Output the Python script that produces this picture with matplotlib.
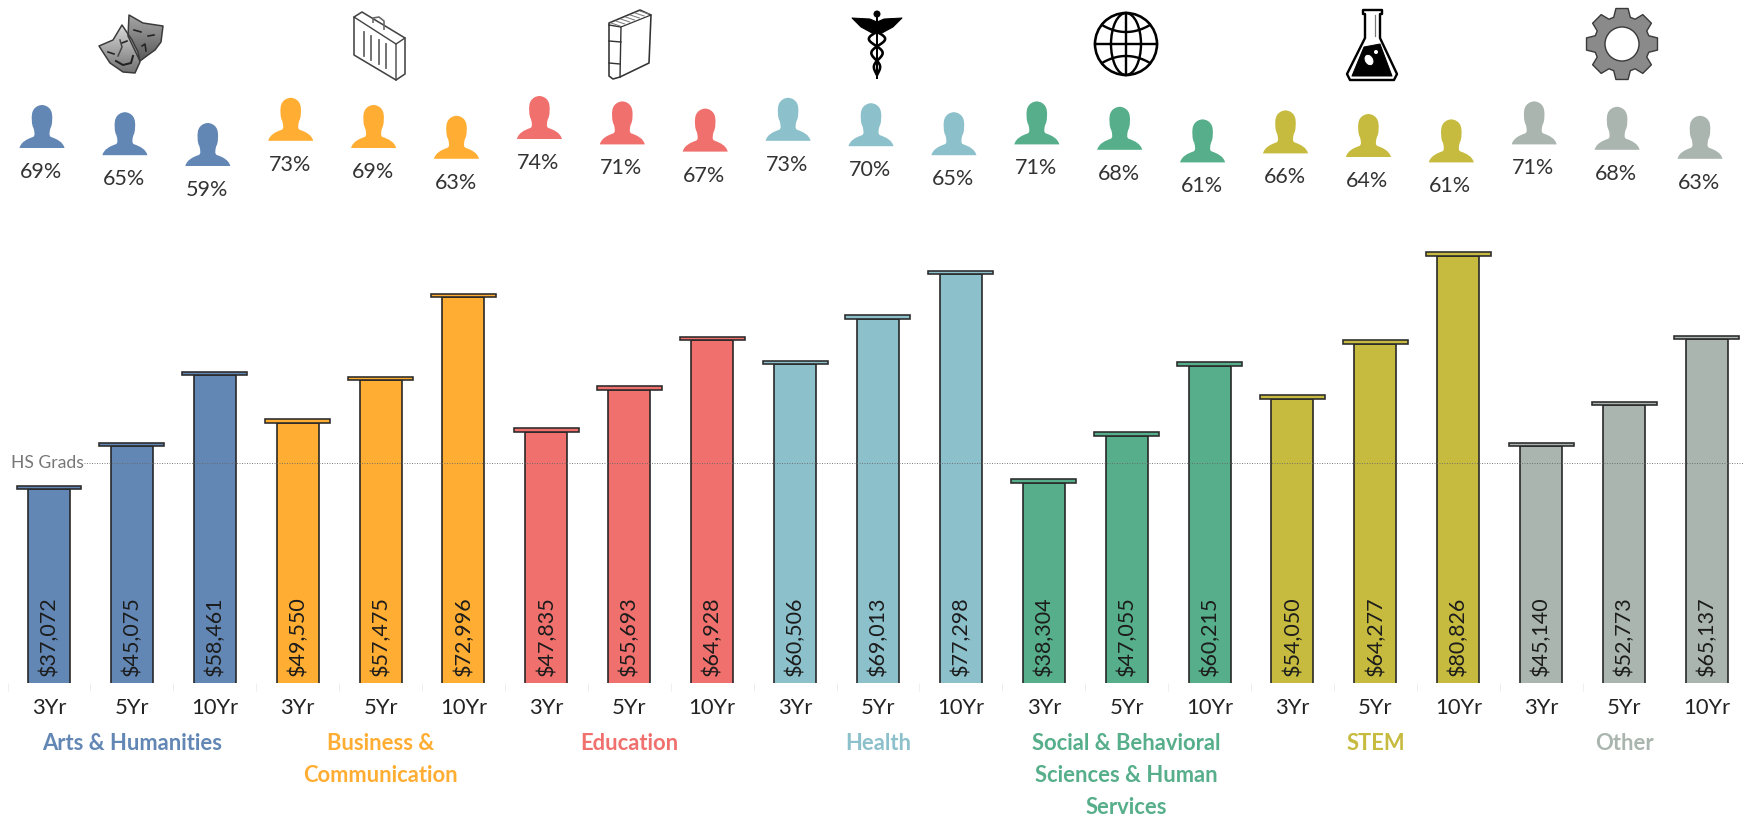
import matplotlib
matplotlib.use("Agg")
import matplotlib.pyplot as plt
from matplotlib.path import Path
from matplotlib.patches import Circle, Ellipse, Polygon
import numpy as np

plt.rcParams['font.family'] = ['Lato', 'DejaVu Sans']

# data
categories = [["Arts & Humanities"],
              ["Business &", "Communication"],
              ["Education"],
              ["Health"],
              ["Social & Behavioral", "Sciences & Human", "Services"],
              ["STEM"],
              ["Other"]]
years = ["3Yr", "5Yr", "10Yr"]
earnings = [37072, 45075, 58461,
            49550, 57475, 72996,
            47835, 55693, 64928,
            60506, 69013, 77298,
            38304, 47055, 60215,
            54050, 64277, 80826,
            45140, 52773, 65137]
employed = [69, 65, 59,
            73, 69, 63,
            74, 71, 67,
            73, 70, 65,
            71, 68, 61,
            66, 64, 61,
            71, 68, 63]
hs_grads = 41950
colors = ["#6287B5", "#FFAD33", "#F0706D", "#8CC0CB", "#56AE8A", "#C6BB3F", "#A9B5AE"]

# dpi 72 so that one point is one pixel
W, H = 1744, 818
fig = plt.figure(figsize=(W / 72, H / 72), dpi=72)

step = 82.9
base_y = 683
px_per_dollar = 0.00534
cut = 4.2  # the bars are cut a little above their zero
n = len(earnings)
x = np.arange(n)
bar_colors = [colors[i // 3] for i in range(n)]

# bars
ax = fig.add_axes([0, (H - base_y) / H, 1, (base_y - 215) / H])
ax.set_xlim(-49 / step, (W - 49) / step)
ax.set_ylim(cut / px_per_dollar, (base_y - 215 + cut) / px_per_dollar)
ax.bar(x, earnings, width=42 / step, color=bar_colors, edgecolor="#222222", linewidth=1.6)
ax.bar(x, 3.5 / px_per_dollar, bottom=earnings, width=65 / step, color=bar_colors,
       edgecolor="#2a2a2a", linewidth=1.6)
for s in ax.spines.values():
    s.set_visible(False)
ax.set_yticks([])
ax.set_xticks(x)
ax.set_xticklabels(years * 7, fontsize=22, color="#222222")
ax.tick_params(axis='x', which='major', length=0, pad=14.5)
ax.set_xticks(x[:-1] - 0.5, minor=True)
ax.tick_params(axis='x', which='minor', length=8, width=1, color="#eeeeee")

for i in range(n):
    ax.annotate("${:,}".format(earnings[i]), (x[i], 0), xycoords=('data', 'axes fraction'), xytext=(0, 7),
                textcoords='offset points', rotation=90, ha='center', va='bottom',
                fontsize=21.5, color="#1c1c1c")

ax.axhline(hs_grads, xmin=84 / W, color="#666666", linewidth=1, linestyle=(0, (1, 1.5)), alpha=0.8)
ax.annotate("HS Grads", (0, hs_grads), xycoords=('axes fraction', 'data'), xytext=(11, 0),
            textcoords='offset points', ha='left', va='center', fontsize=17.5, color="#777777")

for k in range(len(categories)):
    for j, line in enumerate(categories[k]):
        ax.annotate(line, (k * 3 + 1, 0), xytext=(0, -61 - 32 * j), textcoords='offset points',
                    xycoords=('data', 'axes fraction'),
                    ha='center', va='center', fontsize=22, fontweight='bold', color=colors[k])

# people, height follows the percentage
verts = [(-22.5, 0), (22.5, 0), (22.5, 0),
         (21, 6), (15, 9), (9, 11),
         (6.5, 12.5), (7.5, 16), (8.5, 20),
         (10.5, 23), (10.5, 30), (10, 34),
         (9, 41), (3, 43), (0, 43),
         (-3, 43), (-9, 41), (-10, 34),
         (-10.5, 30), (-10.5, 23), (-8.5, 20),
         (-7.5, 16), (-6.5, 12.5), (-9, 11),
         (-15, 9), (-21, 6), (-22.5, 0), (-22.5, 0)]
codes = [Path.MOVETO, Path.LINETO, Path.LINETO] + [Path.CURVE4] * 24 + [Path.CLOSEPOLY]
person = Path(verts, codes)

ax_top = fig.add_axes([0, (H - 220) / H, 1, 220 / H])
ax_top.set_xlim(-42 / step, (W - 42) / step)
ax_top.set_ylim(69 - 72 / 1.8, 69 + 148 / 1.8)
ax_top.axis('off')
ax_top.scatter(x, employed, marker=person, s=86 ** 2, c=bar_colors, linewidths=0, clip_on=False)
for i in range(n):
    ax_top.annotate("{}%".format(employed[i]), (x[i], employed[i]), xytext=(-1, -24),
                    textcoords='offset points', ha='center', va='center',
                    fontsize=21.5, color="#333333")

# category icons, drawn in pixel coordinates
ic = fig.add_axes([0, 0, 1, 1])
ic.set_xlim(0, W)
ic.set_ylim(H, 0)
ic.axis('off')
ic.patch.set_alpha(0)


def poly(pts, fc="none", ec="black", lw=2, closed=True):
    p = Polygon(pts, closed=closed, facecolor=fc, edgecolor=ec, linewidth=lw, joinstyle='round')
    ic.add_patch(p)
    return p


def shaded(pts, light, dark):
    # grey shading clipped to the mask outline
    xs = [q[0] for q in pts]
    ys = [q[1] for q in pts]
    grad = np.linspace(light, dark, 64).reshape(-1, 1) * np.ones((64, 64))
    p = poly(pts, ec="#3a3a3a", lw=1.5)
    im = ic.imshow(grad, extent=(min(xs), max(xs), max(ys), min(ys)), cmap="gray", vmin=0, vmax=1,
                   aspect='auto', zorder=p.get_zorder() - 0.5)
    im.set_clip_path(p)


# masks
back = [(129, 15), (143, 23), (163, 26), (161, 42), (155, 50), (148, 55), (140, 61), (128, 36)]
shaded(back, 0.65, 0.35)
ic.plot([134, 141], [30, 32], color="#222222", lw=1.6)
ic.plot([148, 154], [36, 35], color="#222222", lw=1.6)
ic.plot([142, 145, 146], [46, 44, 51], color="#222222", lw=1.6)
front = [(99, 46), (113, 40), (122, 25), (132, 40), (138, 52), (140, 62), (135, 73), (123, 72), (110, 63)]
shaded(front, 0.85, 0.45)
ic.plot([108, 114], [52, 54], color="#222222", lw=1.6)
ic.plot([122, 127], [43, 41], color="#222222", lw=1.6)
ic.plot([116, 123, 131, 133], [61, 65, 63, 56], color="#222222", lw=2)
ic.plot([120, 122, 118], [40, 47, 56], color="#444444", lw=1.5)

# briefcase
poly([(354, 17), (362, 12), (405, 38), (405, 74), (396, 80), (354, 55)], fc="white", ec="#444444", lw=1.6)
ic.plot([354, 396, 396], [17, 44, 80], color="#444444", lw=1.4)
ic.plot([396, 405], [44, 38], color="#444444", lw=1.4)
poly([(373, 23), (373, 18), (379, 17), (384, 21), (384, 30)], ec="#666666", lw=1.6, closed=False)
for bx, by in [(364, 32), (371, 36), (379, 40), (386, 44)]:
    ic.plot([bx, bx], [by, by + 24], color="#666666", lw=1.8)

# book
poly([(609, 23), (640, 10), (651, 15), (649, 63), (620, 77), (613, 79), (609, 76)], fc="white", ec="#333333", lw=1.6)
ic.plot([609, 621, 620], [25, 27, 77], color="#333333", lw=1.4)
ic.plot([621, 651], [27, 15], color="#333333", lw=1.2)
for t in np.linspace(0, 1, 7):
    ic.plot([611 + 29 * t, 620 + 29 * t], [23 - 12 * t, 26 - 12 * t], color="#777777", lw=1)
ic.plot([609, 621], [41, 42], color="#333333", lw=1.4)
ic.plot([609, 620], [63, 64], color="#333333", lw=1.4)

# caduceus
ic.plot([877, 877], [12, 78], color="black", lw=2)
ic.add_patch(Circle((877, 14), 3, color="black"))
poly([(852, 18), (870, 19), (877, 22), (884, 19), (902, 18), (893, 27), (882, 33), (872, 33), (861, 27)],
     fc="black", ec="black", lw=1)
sy = np.linspace(32, 74, 80)
amp = np.interp(sy, [32, 40, 74], [9, 8, 2])
ic.plot(877 + amp * np.sin((sy - 32) / 4.6), sy, color="black", lw=2.6)
ic.plot(877 - amp * np.sin((sy - 32) / 4.6), sy, color="black", lw=2.6)

# globe
ic.add_patch(Circle((1126, 44), 31, fill=False, ec="black", lw=2.6))
ic.add_patch(Ellipse((1126, 44), 30, 62, fill=False, ec="black", lw=2.4))
ic.plot([1126, 1126], [13, 75], color="black", lw=2.4)
ic.plot([1095, 1157], [44, 44], color="black", lw=2.4)
gx = np.linspace(1102, 1150, 30)
bow = 7 * (1 - ((gx - 1126) / 24) ** 2)
ic.plot(gx, 25 + bow, color="black", lw=2.4)
ic.plot(gx, 63 - bow, color="black", lw=2.4)

# flask
poly([(1363, 10), (1382, 10), (1382, 14), (1380, 14), (1380, 38), (1397, 74), (1394, 80), (1350, 80), (1347, 74),
      (1365, 38), (1365, 14), (1363, 14)], fc="white", ec="black", lw=2.4)
ic.plot([1375, 1375], [15, 36], color="#777777", lw=1.2)
poly([(1364, 47), (1380, 44), (1392, 76), (1352, 76)], fc="black", ec="black", lw=1)
ic.add_patch(Ellipse((1369, 60), 7, 10, angle=-30, color="white"))
ic.add_patch(Circle((1376, 52), 1.5, color="white"))

# gear
ang = np.linspace(0, 2 * np.pi, 8, endpoint=False) - np.pi / 2
gear = []
for a in ang:
    for da, r in [(-0.30, 28), (-0.17, 36), (0.17, 36), (0.30, 28)]:
        gear.append((1622 + r * np.cos(a + da), 44 + r * np.sin(a + da)))
poly(gear, fc="#8a8a8a", ec="#3a3a3a", lw=1.4)
ic.add_patch(Circle((1622, 44), 17, fc="white", ec="#3a3a3a", lw=1.4))

ic.set_xlim(0, W)
ic.set_ylim(H, 0)

plt.savefig("out.png", dpi=72, facecolor="white")
